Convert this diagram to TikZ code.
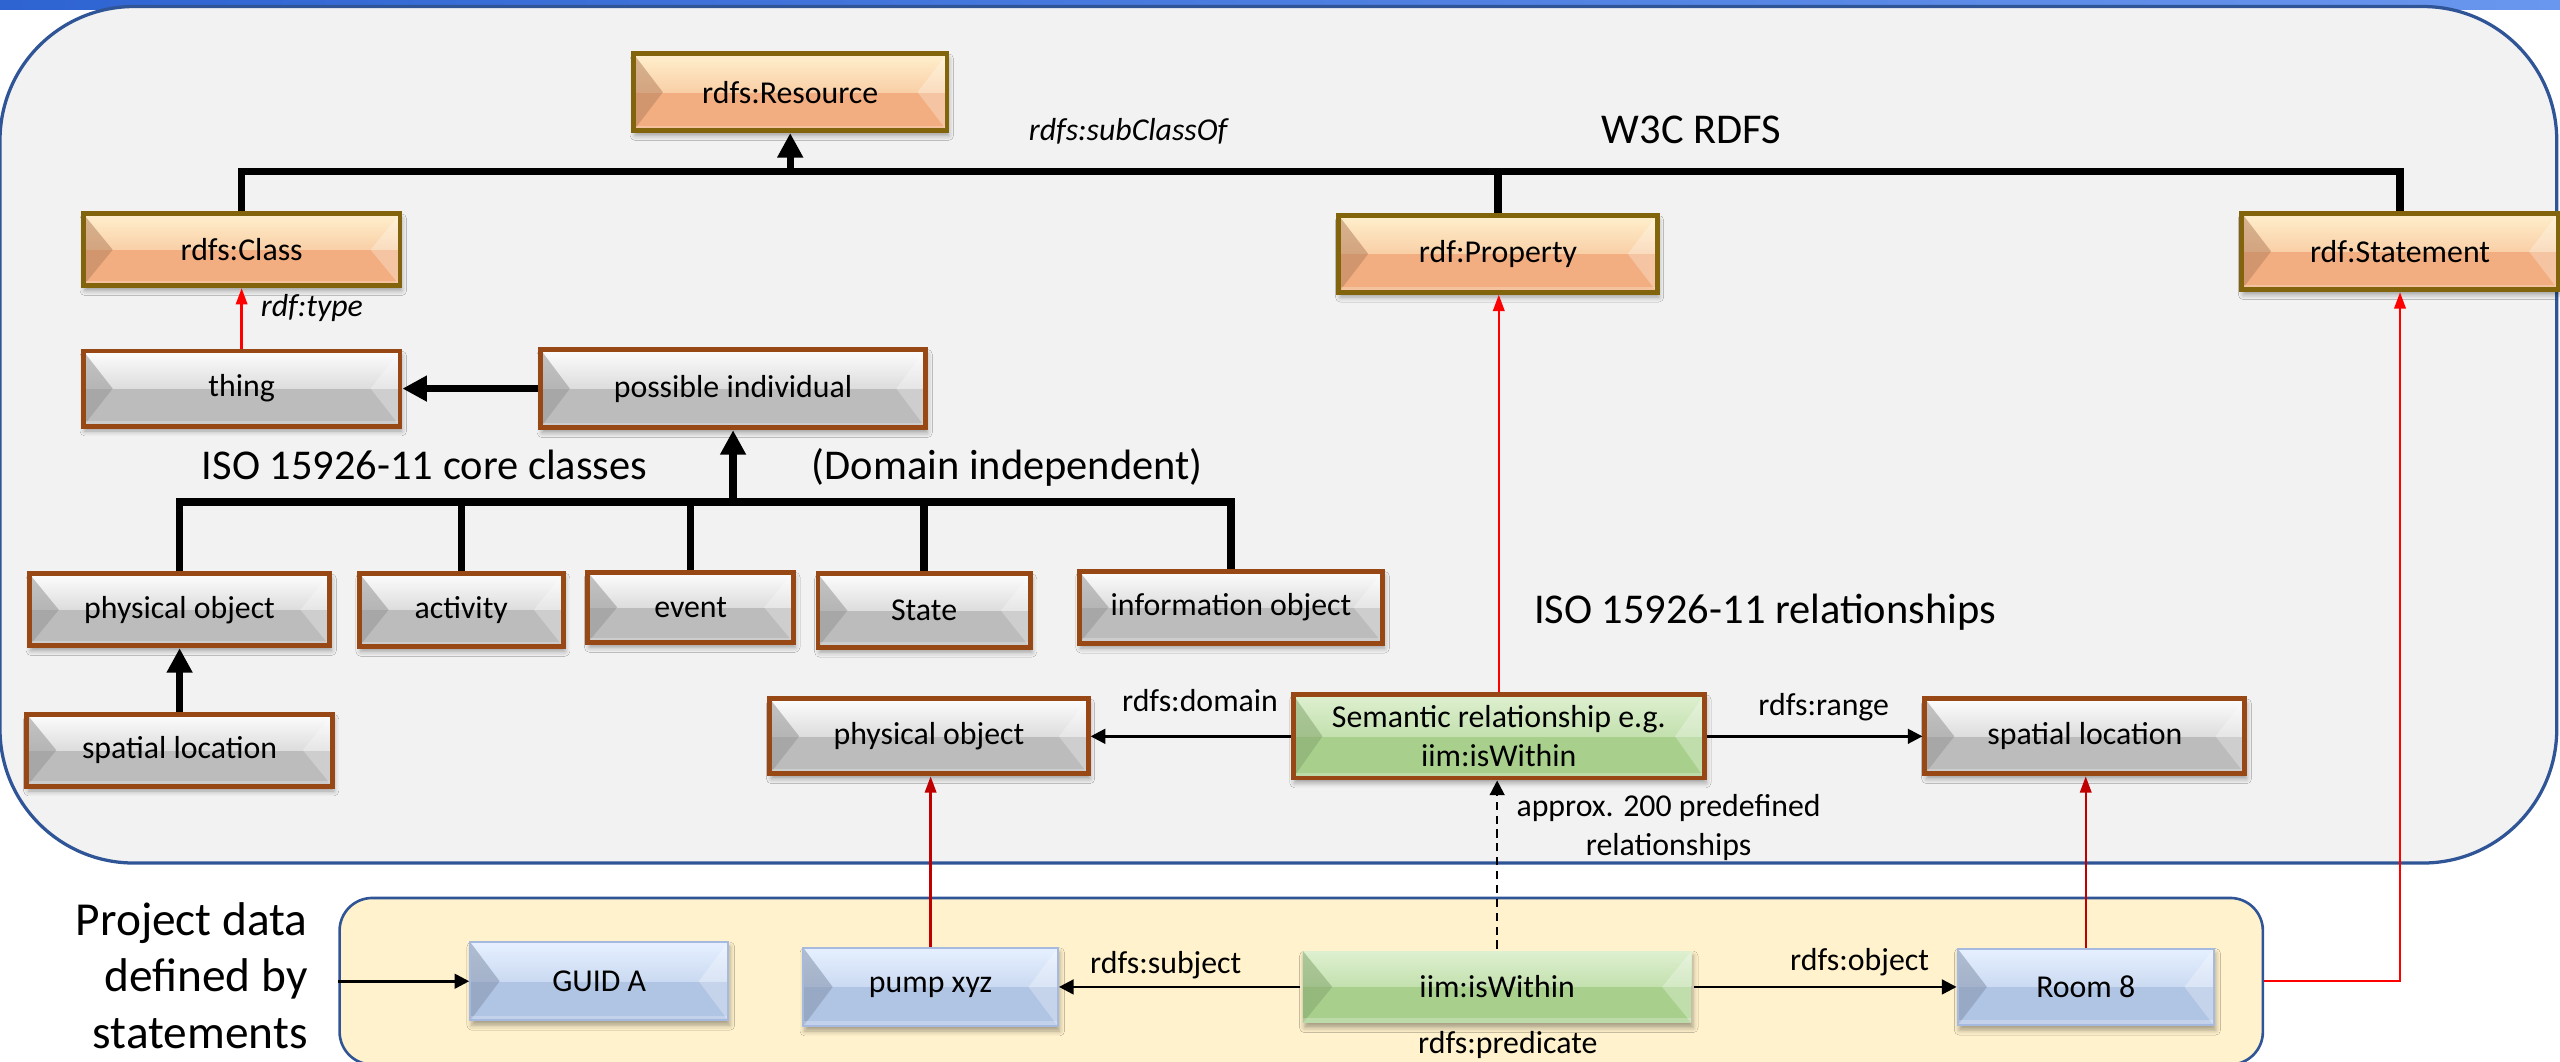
\documentclass[tikz,border=0pt]{standalone}
\usepackage{fontspec}
\setmainfont{Carlito}
\usetikzlibrary{arrows.meta,calc,shadows.blur}

\definecolor{ontofill}{RGB}{242,242,242}
\definecolor{frameblue}{RGB}{47,85,151}
\definecolor{topblue}{RGB}{46,100,210}
\definecolor{topblueR}{RGB}{105,150,238}
\definecolor{projfill}{RGB}{255,242,204}
\definecolor{orbase}{RGB}{242,174,128}
\definecolor{orlight}{RGB}{255,240,205}
\definecolor{orborder}{RGB}{130,100,12}
\definecolor{grbase}{RGB}{188,188,188}
\definecolor{grlight}{RGB}{253,253,253}
\definecolor{boxbrown}{RGB}{152,72,20}
\definecolor{gnbase}{RGB}{168,208,140}
\definecolor{gnlight}{RGB}{222,240,208}
\definecolor{blbase}{RGB}{176,196,228}
\definecolor{bllight}{RGB}{230,240,255}
\definecolor{blborder}{RGB}{165,186,222}
\definecolor{darkred}{RGB}{192,0,0}

\newcommand\bxfont{\fontsize{19.5}{24}\selectfont}
\newcommand\bigfont{\fontsize{26}{31}\selectfont}
\newcommand\prjfont{\fontsize{29}{35}\selectfont}

\tikzset{
  % bevelled box: #1 base colour, #2 highlight, #3 left facet colour
  bevel/.style n args={3}{
    fill=#1,
    path picture={
      \shade[top color=#2, bottom color=#1]
        (path picture bounding box.north west) rectangle (path picture bounding box.east);
      \fill[#3, opacity=0.55]
        (path picture bounding box.north west)
        -- ([xshift=18pt]path picture bounding box.west)
        -- (path picture bounding box.south west) -- cycle;
      \fill[white, opacity=0.28]
        (path picture bounding box.north east)
        -- ([xshift=-18pt]path picture bounding box.east)
        -- (path picture bounding box.south east) -- cycle;
      \fill[white, opacity=0.25]
        ([yshift=3pt]path picture bounding box.south west) rectangle (path picture bounding box.south east);
    }
  },
  box/.style={draw, line width=3pt, inner sep=0pt, align=center, font=\bxfont,
    blur shadow={shadow xshift=1pt, shadow yshift=-3pt, shadow blur radius=3pt, shadow opacity=35}},
  orbox/.style={box, draw=orborder, bevel={orbase}{orlight}{orbase!75!black}},
  grbox/.style={box, draw=boxbrown, bevel={grbase}{grlight}{grbase!80!black}},
  gnbox/.style={box, draw=boxbrown, bevel={gnbase}{gnlight}{gnbase!80!black}},
  blbox/.style={box, draw=blborder, line width=1.2pt, bevel={blbase}{bllight}{blbase!75!black}},
  lbl/.style={inner sep=0pt, anchor=base, font=\bxfont},
  biglbl/.style={inner sep=0pt, anchor=base, font=\bigfont},
  prj/.style={inner sep=0pt, anchor=base east, font=\prjfont},
  tree/.style={line width=4.5pt, black, line join=miter},
  treearrow/.style={tree, -{Triangle[width=15pt,length=15pt]}},
  thinarrow/.style={line width=1.6pt, black, -{Triangle[width=9pt,length=9pt]}},
  redarrow/.style={line width=1.4pt, red, -{Triangle[width=7pt,length=10pt]}},
  dredarrow/.style={redarrow, darkred},
  dasharrow/.style={line width=1.4pt, black, dash pattern=on 5pt off 3.5pt, -{Triangle[width=9pt,length=9pt]}},
}

\begin{document}
\begin{tikzpicture}[x=1pt, y=-1pt]
\useasboundingbox (0,0) rectangle (1568,650);

% header band and the two containers
\shade[left color=topblue, right color=topblueR] (0,0) rectangle (1568,5.7);
\node[draw=frameblue, line width=2pt, fill=ontofill, rounded corners=82pt,
      minimum width=1566pt, minimum height=524.6pt, inner sep=0pt] (onto) at (783,266.3) {};
\node[draw=frameblue, line width=1.6pt, fill=projfill, rounded corners=20pt,
      minimum width=1178pt, minimum height=102pt, inner sep=0pt] (proj) at (797,601) {};

% W3C RDFS classes
\node[orbox, minimum width=192pt, minimum height=47pt] (res)  at (484,56.5)  {rdfs:Resource};
\node[orbox, minimum width=194pt, minimum height=44pt] (cls)  at (148,153)   {rdfs:Class};
\node[orbox, minimum width=195pt, minimum height=47pt] (prop) at (917.5,155.5) {rdf:Property};
\node[orbox, minimum width=194pt, minimum height=47pt] (stmt) at (1470,154)  {rdf:Statement};

% ISO 15926-11 core classes
\node[grbox, minimum width=194pt, minimum height=46pt] (thing)  at (148,238)   {thing};
\node[grbox, minimum width=236pt, minimum height=48pt] (posind) at (449,238)   {possible individual};
\node[grbox, minimum width=184pt, minimum height=44pt] (phys1)  at (110,373.5) {physical object};
\node[grbox, minimum width=125pt, minimum height=45pt] (act)    at (282.5,373.5) {activity};
\node[grbox, minimum width=126pt, minimum height=43pt] (event)  at (423,372)   {event};
\node[grbox, minimum width=130pt, minimum height=45pt] (state)  at (566,374)   {State};
\node[grbox, minimum width=186pt, minimum height=44pt] (info)   at (754,372)   {information object};
\node[grbox, minimum width=187pt, minimum height=44pt] (sl1)    at (110,459.5) {spatial location};

% relationship layer
\node[grbox, minimum width=195pt, minimum height=46pt] (phys2) at (569,451)  {physical object};
\node[gnbox, minimum width=252pt, minimum height=51pt] (sem)   at (918,451)  {Semantic relationship e.g.\\iim:isWithin};
\node[grbox, minimum width=196pt, minimum height=46pt] (sl2)   at (1277,451) {spatial location};

% project data
\node[blbox, minimum width=158pt, minimum height=48pt] (guid) at (367,601)    {GUID A};
\node[blbox, minimum width=156pt, minimum height=48pt] (pump) at (570,604.5)  {pump xyz};
\node[gnbox, draw=none, minimum width=238pt, minimum height=44pt] (iim) at (917,604.5) {iim:isWithin};
\node[blbox, minimum width=157pt, minimum height=47pt] (room) at (1277.5,604.5) {Room 8};

% subclass trees
\coordinate (bar1) at (0,105);
\coordinate (bar2) at (0,307.5);
\draw[tree] (cls.north) |- (stmt.north |- bar1) -- (stmt.north);
\draw[tree] (prop.north) -- (prop.north |- bar1);
\draw[treearrow] (res.south |- bar1) -- (res.south);

\draw[tree] (phys1.north) |- (info.north |- bar2) -- (info.north);
\draw[tree] (act.north) -- (act.north |- bar2);
\draw[tree] (event.north) -- (event.north |- bar2);
\draw[tree] (state.north) -- (state.north |- bar2);
\draw[treearrow] (posind.south |- bar2) -- (posind.south);
\draw[treearrow] (posind.west) -- (thing.east);
\draw[treearrow] (sl1.north) -- (phys1.south);

% typing links
\draw[redarrow] (thing.north) -- (cls.south);
\draw[redarrow] (sem.north) -- (sem.north |- prop.south);
\draw[redarrow] (proj.east) -| (stmt.south);
\draw[dredarrow] (pump.north) -- (pump.north |- phys2.south);
\draw[dredarrow] (room.north) -- (room.north |- sl2.south);
\draw[dasharrow] (iim.north) -- (iim.north |- sem.south);

% domain / range and statement parts
\draw[thinarrow] (sem.west) -- (phys2.east);
\draw[thinarrow] (sem.east) -- (sl2.west);
\draw[thinarrow] (iim.west) -- (pump.east);
\draw[thinarrow] (iim.east) -- (room.west);
\draw[thinarrow] (proj.west) -- (guid.west);

% labels
\node[lbl, font=\bxfont\itshape] (lsub) at (691,86) {rdfs:subClassOf};
\node[biglbl] (lw3c) at (1036,87.6) {W3C RDFS};
\node[lbl, font=\bxfont\itshape] (ltype) at (191,194) {rdf:type};
\node[biglbl] (liso) at (260,293.5) {ISO 15926-11 core classes};
\node[biglbl] (ldom) at (617,293.5) {(Domain independent)};
\node[biglbl] (lrel) at (1081,382) {ISO 15926-11 relationships};
\node[lbl] (ldomain) at (735,436) {rdfs:domain};
\node[lbl] (lrange) at (1117,438) {rdfs:range};
\node[lbl] (lapprox) at (1022,500) {approx. 200 predefined};
\node[lbl] (lapprox2) at (1022,524) {relationships};
\node[lbl] (lsubj) at (714,596) {rdfs:subject};
\node[lbl] (lobj) at (1139,594.6) {rdfs:object};
\node[lbl] (lpred) at (923.5,645) {rdfs:predicate};
\node[prj] (pd1) at (188.6,573) {Project data};
\node[prj] (pd2) at (188.6,607.5) {defined by};
\node[prj] (pd3) at (188.6,642) {statements};
\end{tikzpicture}
\end{document}
